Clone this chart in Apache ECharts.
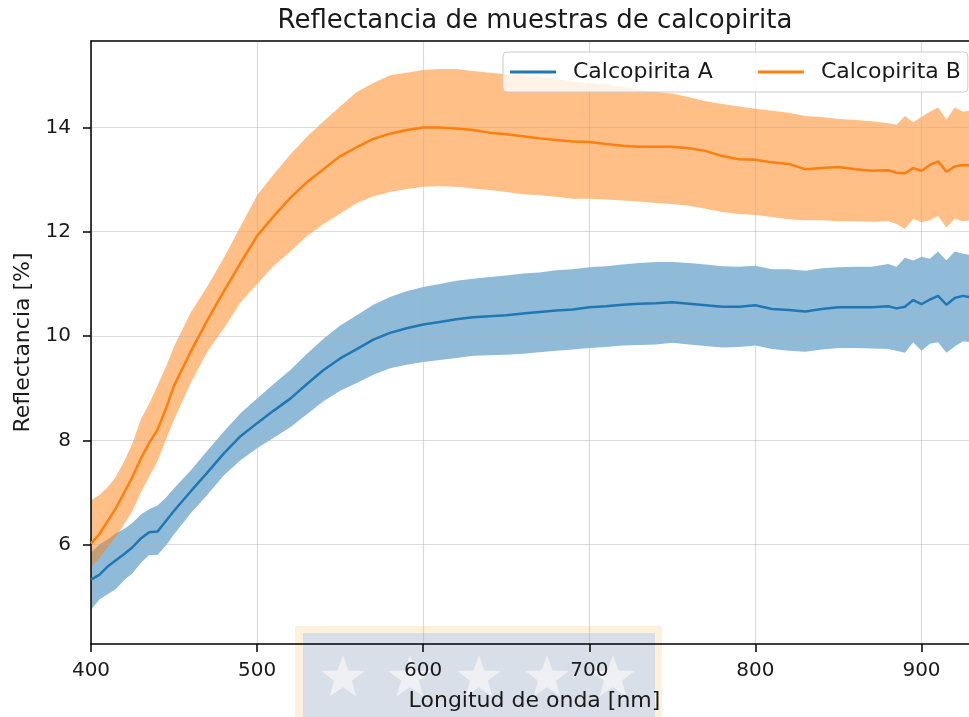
<!DOCTYPE html>
<html>
<head>
<meta charset="utf-8">
<script src="https://cdn.jsdelivr.net/npm/echarts@6/dist/echarts.min.js"></script>
<style>
  html, body { margin: 0; padding: 0; background: #fff; }
  #chart { width: 969px; height: 717px; }
</style>
</head>
<body>
<div id="chart"></div>
<script>
// Wavelength samples [nm]
const wavelength = [400,405,410,415,420,425,430,435,440,445,450,
  460,470,480,490,500,510,520,530,540,550,560,570,580,590,600,610,620,630,640,650,
  660,670,680,690,700,710,720,730,740,750,760,770,780,790,800,810,820,830,840,850,
  860,870,880,885,890,895,900,905,910,915,920,925,930];

// Calcopirita A: mean reflectance and band limits [%]
const meanA = [5.33,5.42,5.58,5.7,5.82,5.95,6.12,6.24,6.25,6.45,6.65,
  7.02,7.38,7.75,8.08,8.33,8.57,8.8,9.08,9.35,9.57,9.75,9.93,10.06,10.15,10.22,10.27,10.32,10.36,10.38,10.4,
  10.43,10.46,10.49,10.51,10.55,10.57,10.6,10.62,10.63,10.65,10.62,10.59,10.56,10.56,10.59,10.52,10.5,10.47,10.52,10.55,
  10.55,10.55,10.57,10.53,10.56,10.69,10.61,10.7,10.77,10.6,10.73,10.77,10.74];
const upperA = [5.85,6.0,6.1,6.22,6.3,6.42,6.58,6.68,6.75,6.9,7.08,
  7.42,7.8,8.17,8.52,8.8,9.08,9.35,9.66,9.95,10.2,10.4,10.6,10.75,10.86,10.94,11.0,11.06,11.1,11.13,11.16,
  11.2,11.22,11.26,11.28,11.32,11.34,11.37,11.4,11.42,11.42,11.4,11.37,11.34,11.33,11.35,11.28,11.28,11.25,11.3,11.32,
  11.33,11.33,11.38,11.33,11.5,11.45,11.52,11.48,11.62,11.45,11.62,11.58,11.55];
const lowerA = [4.75,4.95,5.05,5.15,5.32,5.45,5.65,5.8,5.8,5.98,6.2,
  6.6,6.95,7.33,7.62,7.85,8.05,8.25,8.5,8.75,8.95,9.1,9.26,9.38,9.45,9.5,9.54,9.58,9.62,9.63,9.64,
  9.66,9.69,9.72,9.74,9.77,9.79,9.82,9.83,9.84,9.87,9.84,9.81,9.78,9.79,9.82,9.75,9.72,9.7,9.74,9.77,
  9.77,9.76,9.75,9.72,9.68,9.88,9.72,9.85,9.88,9.68,9.8,9.9,9.88];

// Calcopirita B: mean reflectance and band limits [%]
const meanB = [6.02,6.2,6.45,6.7,7.0,7.3,7.65,7.95,8.2,8.6,9.05,
  9.7,10.3,10.86,11.4,11.92,12.3,12.65,12.95,13.2,13.45,13.62,13.78,13.88,13.95,14.0,14.0,13.98,13.95,13.9,13.87,
  13.83,13.79,13.76,13.73,13.72,13.68,13.65,13.63,13.63,13.63,13.6,13.55,13.45,13.39,13.38,13.33,13.3,13.2,13.22,13.24,
  13.2,13.17,13.18,13.13,13.12,13.22,13.17,13.28,13.35,13.15,13.25,13.28,13.27];
const upperB = [6.85,6.95,7.1,7.3,7.6,7.95,8.4,8.7,9.05,9.4,9.8,
  10.45,10.95,11.5,12.1,12.7,13.1,13.48,13.82,14.12,14.4,14.68,14.85,15.0,15.05,15.1,15.12,15.12,15.08,15.05,15.02,
  15.0,14.97,14.93,14.88,14.85,14.83,14.78,14.72,14.68,14.65,14.58,14.5,14.45,14.4,14.36,14.32,14.28,14.22,14.2,14.16,
  14.14,14.12,14.08,14.05,14.22,14.1,14.2,14.3,14.38,14.15,14.38,14.3,14.33];
const lowerB = [5.55,5.75,5.95,6.15,6.4,6.65,7.0,7.3,7.6,8.0,8.4,
  9.1,9.7,10.15,10.65,11.0,11.35,11.62,11.92,12.15,12.35,12.55,12.68,12.76,12.82,12.86,12.87,12.86,12.83,12.8,12.76,
  12.72,12.7,12.67,12.63,12.63,12.62,12.6,12.58,12.55,12.53,12.5,12.44,12.38,12.34,12.32,12.28,12.24,12.22,12.22,12.2,
  12.2,12.19,12.2,12.15,12.05,12.25,12.18,12.22,12.3,12.08,12.25,12.2,12.22];

const xTicks = [400, 500, 600, 700, 800, 900];
const yTicks = [6, 8, 10, 12, 14];

const FONT = 'DejaVu Sans';
const BLUE = '#1f77b4';
const ORANGE = '#ff7f0e';

const pairs = (ys) => wavelength.map((x, i) => [x, ys[i]]);

// Shaded band between lower and upper limits, drawn as one polygon
function bandSeries(id, lo, hi, color) {
  return {
    name: id, type: 'custom', silent: true, z: 1, clip: true,
    data: wavelength.map((x, i) => [x, lo[i], hi[i]]),
    encode: { x: 0, y: [1, 2] },
    renderItem: function (params, api) {
      if (params.dataIndex !== 0) return null;
      const top = wavelength.map((x, i) => api.coord([x, hi[i]]));
      const bottom = wavelength.map((x, i) => api.coord([x, lo[i]])).reverse();
      return {
        type: 'polygon',
        shape: { points: top.concat(bottom) },
        style: { fill: color, opacity: 0.5 }
      };
    }
  };
}

// Decorative emblem behind the bottom axis
function starPoints(cx, cy, R, r) {
  const pts = [];
  for (let k = 0; k < 10; k++) {
    const ang = -Math.PI / 2 + k * Math.PI / 5;
    const rad = k % 2 === 0 ? R : r;
    pts.push([cx + rad * Math.cos(ang), cy + rad * Math.sin(ang)]);
  }
  return pts;
}
const emblem = [
  { type: 'rect', shape: { x: 295, y: 626, width: 367, height: 100 }, style: { fill: '#fdf1dc' }, z: -10 },
  { type: 'rect', shape: { x: 303, y: 633, width: 352, height: 100 }, style: { fill: '#d8dfe9' }, z: -9 }
].concat([343, 410, 479, 547, 613].map(cx => ({
  type: 'polygon', shape: { points: starPoints(cx, 678, 23, 9.3) },
  style: { fill: '#eef0f3' }, z: -8
})));

const chart = echarts.init(document.getElementById('chart'), null, { renderer: 'canvas' });

chart.setOption({
  animation: false,
  backgroundColor: '#ffffff',
  title: {
    text: 'Reflectancia de muestras de calcopirita',
    left: 530, top: 3, textAlign: 'center',
    textStyle: { fontFamily: FONT, fontSize: 26, fontWeight: 'normal', color: '#1a1a1a' }
  },
  graphic: emblem,
  legend: {
    data: ['Calcopirita A', 'Calcopirita B'],
    left: 503, top: 52,
    icon: 'rect', itemWidth: 46, itemHeight: 3, itemGap: 45,
    padding: [9, 7, 9, 7],
    backgroundColor: 'rgba(255,255,255,0.8)',
    borderColor: '#cccccc', borderWidth: 1, borderRadius: 4,
    selectedMode: false,
    textStyle: { fontFamily: FONT, fontSize: 22, color: '#1a1a1a', padding: [0, 0, 0, 12] },
    z: 10
  },
  grid: { left: 91, right: -9, top: 41, bottom: 69, containLabel: false },
  xAxis: [
    {
      type: 'value', min: 400, max: 928.6, position: 'bottom', z: 3,
      name: 'Longitud de onda [nm]', nameLocation: 'middle', nameGap: 46,
      nameTextStyle: { fontFamily: FONT, fontSize: 22, color: '#1a1a1a', padding: [0, 0, 0, 9] },
      axisLine: { show: true, onZero: false, lineStyle: { color: '#000', width: 1.5 } },
      axisTick: { show: true, length: 8, customValues: xTicks, lineStyle: { color: '#000', width: 1.5 } },
      axisLabel: { customValues: xTicks, margin: 17, fontFamily: FONT, fontSize: 20, color: '#1a1a1a' },
      splitLine: { show: true, lineStyle: { color: 'rgba(176,176,176,0.45)', width: 1.2 } }
    },
    {
      type: 'value', min: 400, max: 928.6, position: 'top', z: 3,
      axisLine: { show: true, onZero: false, lineStyle: { color: '#000', width: 1.5 } },
      axisTick: { show: false }, axisLabel: { show: false }, splitLine: { show: false }
    }
  ],
  yAxis: {
    type: 'value', min: 4.095, max: 15.657, z: 3,
    name: 'Reflectancia [%]', nameLocation: 'middle', nameGap: 55, nameRotate: 90,
    nameTextStyle: { fontFamily: FONT, fontSize: 22, color: '#1a1a1a' },
    axisLine: { show: true, onZero: false, lineStyle: { color: '#000', width: 1.5 } },
    axisTick: { show: true, length: 8, customValues: yTicks, lineStyle: { color: '#000', width: 1.5 } },
    axisLabel: { customValues: yTicks, margin: 20, fontFamily: FONT, fontSize: 20, color: '#1a1a1a' },
    splitLine: { show: true, lineStyle: { color: 'rgba(176,176,176,0.45)', width: 1.2 } }
  },
  series: [
    bandSeries('bandA', lowerA, upperA, BLUE),
    bandSeries('bandB', lowerB, upperB, ORANGE),
    {
      name: 'Calcopirita A', type: 'line', data: pairs(meanA),
      showSymbol: false, symbol: 'none', color: BLUE,
      lineStyle: { color: BLUE, width: 2.5 }, z: 4
    },
    {
      name: 'Calcopirita B', type: 'line', data: pairs(meanB),
      showSymbol: false, symbol: 'none', color: ORANGE,
      lineStyle: { color: ORANGE, width: 2.5 }, z: 4
    }
  ]
});
</script>
</body>
</html>
